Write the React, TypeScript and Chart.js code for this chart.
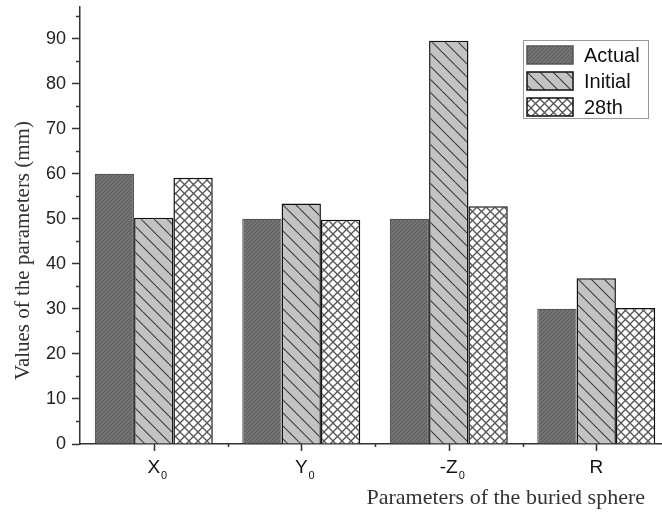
import React, { useEffect, useRef } from "react";
import { Chart, registerables } from "chart.js";

Chart.register(...registerables);

const categories = ["X", "Y", "-Z", "R"];
const categorySubscripts = ["0", "0", "0", ""];
const seriesNames = ["Actual", "Initial", "28th"];
const actualValues = [60, 50, 50, 30];
const initialValues = [50.2, 53.4, 89.5, 36.8];
const iter28Values = [59.1, 49.8, 52.8, 30.2];
const yMax = 97;
const yStep = 5;
const yLabelStep = 10;
const xTitle = "Parameters of the buried sphere";
const yTitle = "Values of the parameters (mm)";

const SANS = "'Liberation Sans', Arial, sans-serif";
const SERIF = "'Liberation Serif', 'Times New Roman', serif";

function makePattern(kind: string): CanvasPattern | string {
  const c = document.createElement("canvas");
  let size = 13;
  if (kind === "actual") size = 4;
  if (kind === "cross") size = 9;
  c.width = size;
  c.height = size;
  const g = c.getContext("2d");
  if (!g) return "#888";
  if (kind === "actual") {
    g.fillStyle = "#737373";
    g.fillRect(0, 0, size, size);
    g.strokeStyle = "#5a5a5a";
    g.lineWidth = 1;
    for (const o of [-size, 0, size]) {
      g.beginPath();
      g.moveTo(o, size);
      g.lineTo(o + size, 0);
      g.stroke();
    }
  } else if (kind === "initial") {
    g.fillStyle = "#c3c3c3";
    g.fillRect(0, 0, size, size);
    g.strokeStyle = "#3a3a3a";
    g.lineWidth = 1.1;
    for (const o of [-size, 0, size]) {
      g.beginPath();
      g.moveTo(o, 0);
      g.lineTo(o + size, size);
      g.stroke();
    }
  } else {
    g.fillStyle = "#ffffff";
    g.fillRect(0, 0, size, size);
    g.strokeStyle = "#555555";
    g.lineWidth = 1.3;
    for (const o of [-size, 0, size]) {
      g.beginPath();
      g.moveTo(o, 0);
      g.lineTo(o + size, size);
      g.stroke();
      g.beginPath();
      g.moveTo(o, size);
      g.lineTo(o + size, 0);
      g.stroke();
    }
  }
  const p = g.createPattern(c, "repeat");
  return p || "#888";
}

const decorPlugin = {
  id: "decor",
  afterDraw(chart: any) {
    const ctx = chart.ctx as CanvasRenderingContext2D;
    const area = chart.chartArea;
    const xs = chart.scales.x;
    const ys = chart.scales.y;
    ctx.save();
    // minor y ticks
    ctx.strokeStyle = "#333";
    ctx.lineWidth = 1.5;
    for (let v = yStep; v < yMax; v += yStep) {
      if (v % yLabelStep === 0) continue;
      const py = Math.round(ys.getPixelForValue(v)) + 0.5;
      ctx.beginPath();
      ctx.moveTo(area.left - 4, py);
      ctx.lineTo(area.left, py);
      ctx.stroke();
    }
    // x ticks
    const n = categories.length;
    for (let i = 0; i < n; i++) {
      const px = Math.round(xs.getPixelForValue(i)) + 0.5;
      ctx.beginPath();
      ctx.moveTo(px, area.bottom);
      ctx.lineTo(px, area.bottom + 7);
      ctx.stroke();
      if (i < n - 1) {
        const bx = Math.round((xs.getPixelForValue(i) + xs.getPixelForValue(i + 1)) / 2) + 0.5;
        ctx.beginPath();
        ctx.moveTo(bx, area.bottom);
        ctx.lineTo(bx, area.bottom + 3);
        ctx.stroke();
      }
    }
    // x labels with subscripts
    ctx.fillStyle = "#111";
    ctx.textBaseline = "alphabetic";
    for (let i = 0; i < n; i++) {
      const px = xs.getPixelForValue(i);
      ctx.font = `19px ${SANS}`;
      ctx.textAlign = "center";
      const w = ctx.measureText(categories[i]).width;
      ctx.fillText(categories[i], px, area.bottom + 29);
      if (categorySubscripts[i]) {
        ctx.font = `11px ${SANS}`;
        ctx.textAlign = "left";
        ctx.fillText(categorySubscripts[i], px + w / 2 + 1, area.bottom + 35);
      }
    }
    // x title
    ctx.fillStyle = "#333";
    ctx.font = `22px ${SERIF}`;
    ctx.textAlign = "right";
    ctx.fillText(xTitle, area.right - 25, area.bottom + 60);
    // y title
    ctx.save();
    ctx.translate(23, (area.top + area.bottom) / 2 + 25);
    ctx.rotate(-Math.PI / 2);
    ctx.textAlign = "center";
    ctx.textBaseline = "middle";
    ctx.font = `21px ${SERIF}`;
    ctx.fillText(yTitle, 0, 0);
    ctx.restore();
    // legend
    const lx = area.right - 147;
    const ly = area.top + 33;
    ctx.strokeStyle = "#999";
    ctx.lineWidth = 1;
    ctx.strokeRect(lx + 0.5, ly + 0.5, 125, 78);
    chart.data.datasets.forEach((ds: any, i: number) => {
      const sy = ly + 6 + i * 26;
      ctx.fillStyle = ds.backgroundColor;
      ctx.fillRect(lx + 4, sy, 46, 18);
      ctx.strokeStyle = ds.borderColor;
      ctx.lineWidth = 1.5;
      ctx.strokeRect(lx + 4, sy, 46, 18);
      ctx.fillStyle = "#111";
      ctx.font = `20px ${SANS}`;
      ctx.textAlign = "left";
      ctx.textBaseline = "middle";
      ctx.fillText(ds.label, lx + 61, sy + 10);
    });
    ctx.restore();
  },
};

export default function App() {
  const ref = useRef<HTMLCanvasElement | null>(null);
  useEffect(() => {
    if (!ref.current) return;
    const labels = categories.map((c, i) => c + categorySubscripts[i]);
    const chart = new Chart(ref.current, {
      type: "bar",
      data: {
        labels,
        datasets: [
          {
            label: seriesNames[0],
            data: actualValues,
            backgroundColor: makePattern("actual") as any,
            borderColor: "#555",
            borderWidth: 1.2,
          },
          {
            label: seriesNames[1],
            data: initialValues,
            backgroundColor: makePattern("initial") as any,
            borderColor: "#111",
            borderWidth: 1.5,
          },
          {
            label: seriesNames[2],
            data: iter28Values,
            backgroundColor: makePattern("cross") as any,
            borderColor: "#111",
            borderWidth: 1.5,
          },
        ],
      },
      options: {
        responsive: false,
        animation: false,
        datasets: { bar: { categoryPercentage: 0.8, barPercentage: 1 } },
        layout: { padding: { top: 7, right: 10, left: 0, bottom: 0 } },
        plugins: { legend: { display: false }, tooltip: { enabled: false } },
        scales: {
          x: {
            grid: { display: false },
            border: { display: true, color: "#333", width: 1.5 },
            ticks: { display: false },
            afterFit(scale: any) {
              scale.height = 68;
              scale.paddingLeft = 0;
              scale.paddingRight = 0;
            },
          },
          y: {
            min: 0,
            max: yMax,
            grid: {
              drawOnChartArea: false,
              drawTicks: true,
              tickLength: 8,
              tickWidth: 1.5,
              tickColor: (c: any) =>
                c.tick && c.tick.value % yLabelStep === 0 ? "#333" : "rgba(0,0,0,0)",
            },
            border: { display: true, color: "#333", width: 1.5 },
            ticks: {
              stepSize: yStep,
              autoSkip: false,
              padding: 6,
              color: "#222",
              font: { family: SANS, size: 18 },
              callback: (v: any) => (Number(v) % yLabelStep === 0 ? String(v) : ""),
            },
            afterFit(scale: any) {
              scale.width = 80;
              scale.paddingTop = 0;
              scale.paddingBottom = 0;
            },
          },
        },
      },
      plugins: [decorPlugin],
    });
    return () => chart.destroy();
  }, []);
  return (
    <div
      style={{
        position: "fixed",
        left: 0,
        top: 0,
        width: 662,
        height: 512,
        overflow: "hidden",
        background: "#fff",
      }}
    >
      <canvas ref={ref} width={680} height={512} style={{ display: "block" }} />
    </div>
  );
}
